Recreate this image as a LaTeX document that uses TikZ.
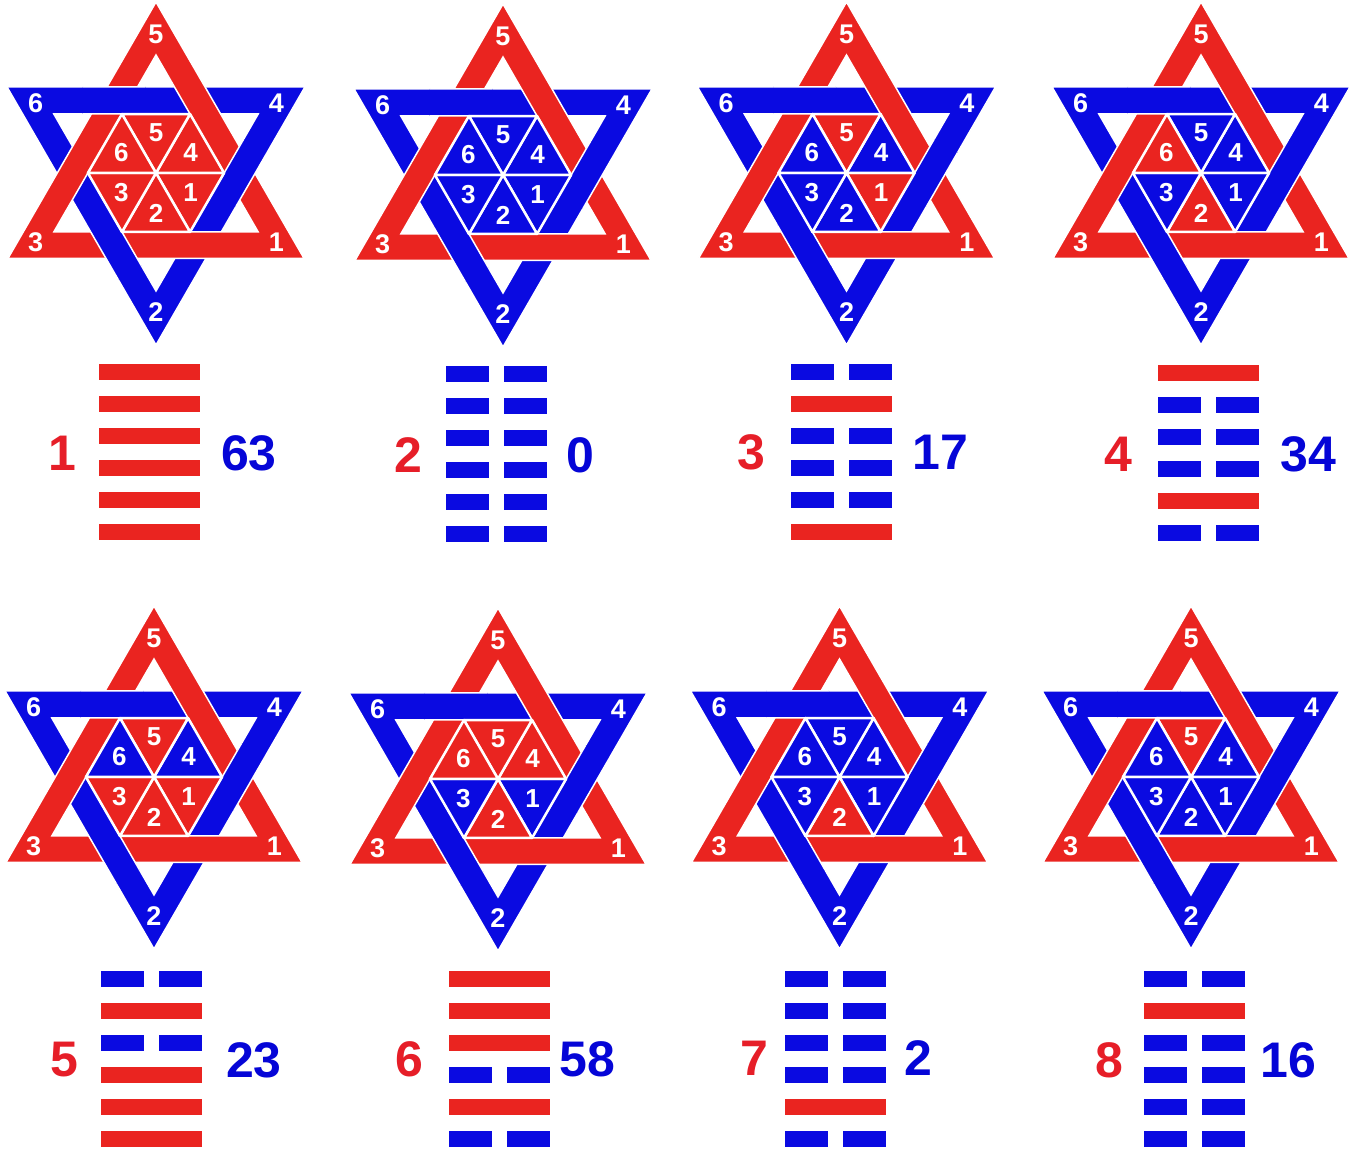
\documentclass[tikz,border=0pt]{standalone}
\usepackage{fontspec}
\setmainfont{Liberation Sans}
\definecolor{sred}{RGB}{234,36,32}
\definecolor{sblue}{RGB}{10,10,225}
\definecolor{lred}{RGB}{230,30,40}
\definecolor{lblue}{RGB}{5,5,215}
\tikzset{
  bandB/.style={fill=sblue, draw=white, line width=1.5pt, even odd rule},
  bandR/.style={fill=sred, draw=white, line width=1.5pt, even odd rule},
  trifill/.style={draw=white, line width=2.5pt, line join=round},
  outlab/.style={text=white, inner sep=0pt, font=\fontsize{27}{27}\selectfont\bfseries},
  inlab/.style={text=white, inner sep=0pt, font=\fontsize{26}{26}\selectfont\bfseries},
  numL/.style={text=lred, inner sep=0pt, font=\fontsize{50}{50}\selectfont\bfseries},
  numR/.style={text=lblue, inner sep=0pt, font=\fontsize{50}{50}\selectfont\bfseries},
}
% #1 name, #2 x, #3 y, #4..#9 colours of inner triangles 1..6
\newcommand\davidstar[9]{%
  \begin{scope}[shift={(#2,#3)}]
    \coordinate (#1) at (0,0);
    \filldraw[bandB] (270:172)--(30:172)--(150:172)--cycle (270:118)--(30:118)--(150:118)--cycle;
    \filldraw[bandR] (90:171)--(210:171)--(330:171)--cycle (90:118)--(210:118)--(330:118)--cycle;
    \foreach \ang in {0,120,240}{%
      \begin{scope}
        \clip (\ang:83.7) circle (34);
        \filldraw[bandB] (270:172)--(30:172)--(150:172)--cycle (270:118)--(30:118)--(150:118)--cycle;
      \end{scope}
    }
    \foreach \ang/\k/\col in {-30/1/#4, -90/2/#5, 210/3/#6, 30/4/#7, 90/5/#8, 150/6/#9}{%
      \filldraw[trifill, fill=\col] (0,0) -- (\ang-30:68.1) -- (\ang+30:68.1) -- cycle;
      \node[inlab] (#1-i\k) at (\ang:40) {\k};
      \node[outlab] (#1-o\k) at (\ang:139) {\k};
    }
  \end{scope}}
% #1 x left, #2 top (image y), #3 bits top to bottom
\newcommand\hexagram[3]{%
  \foreach \bit [count=\k] in {#3}{%
    \pgfmathsetmacro\yt{1150-#2-32*(\k-1)}%
    \ifnum\bit=1
      \fill[sred] (#1,\yt) rectangle ++(101,-16);
    \else
      \fill[sblue] (#1,\yt) rectangle ++(43,-16);
      \fill[sblue] (#1+58,\yt) rectangle ++(43,-16);
    \fi
  }}
\begin{document}
\begin{tikzpicture}[x=1pt,y=1pt]
\fill[white] (0,0) rectangle (1359,1150);
\useasboundingbox (0,0) rectangle (1359,1150);

% row 1
\davidstar{s1}{156}{977}{sred}{sred}{sred}{sred}{sred}{sred}
\davidstar{s2}{503}{975}{sblue}{sblue}{sblue}{sblue}{sblue}{sblue}
\davidstar{s3}{846.5}{977}{sred}{sblue}{sblue}{sblue}{sred}{sblue}
\davidstar{s4}{1201}{977}{sblue}{sred}{sblue}{sblue}{sblue}{sred}
% row 2
\davidstar{s5}{154}{373}{sred}{sred}{sred}{sblue}{sred}{sblue}
\davidstar{s6}{498}{371}{sblue}{sred}{sblue}{sred}{sred}{sred}
\davidstar{s7}{839.5}{373}{sblue}{sred}{sblue}{sblue}{sblue}{sblue}
\davidstar{s8}{1191}{373}{sblue}{sblue}{sblue}{sblue}{sred}{sblue}

% hexagrams row 1
\hexagram{99}{364}{1,1,1,1,1,1}
\hexagram{446}{366}{0,0,0,0,0,0}
\hexagram{791}{364}{0,1,0,0,0,1}
\hexagram{1158}{365}{1,0,0,0,1,0}
% hexagrams row 2
\hexagram{101}{971}{0,1,0,1,1,1}
\hexagram{449}{971}{1,1,1,0,1,0}
\hexagram{785}{971}{0,0,0,0,1,0}
\hexagram{1144}{971}{0,1,0,0,0,0}

% numbers
\node[numL] (n1) at (62,697) {1};   \node[numR] (m1) at (249,697) {63};
\node[numL] (n2) at (408,695) {2};  \node[numR] (m2) at (580,695) {0};
\node[numL] (n3) at (751,698) {3};  \node[numR] (m3) at (940,698) {17};
\node[numL] (n4) at (1118,696) {4}; \node[numR] (m4) at (1308,696) {34};
\node[numL] (n5) at (64,90) {5};    \node[numR] (m5) at (254,90) {23};
\node[numL] (n6) at (409,91) {6};   \node[numR] (m6) at (587,91) {58};
\node[numL] (n7) at (754,92) {7};   \node[numR] (m7) at (918,92) {2};
\node[numL] (n8) at (1109,90) {8};  \node[numR] (m8) at (1288,90) {16};
\end{tikzpicture}
\end{document}
